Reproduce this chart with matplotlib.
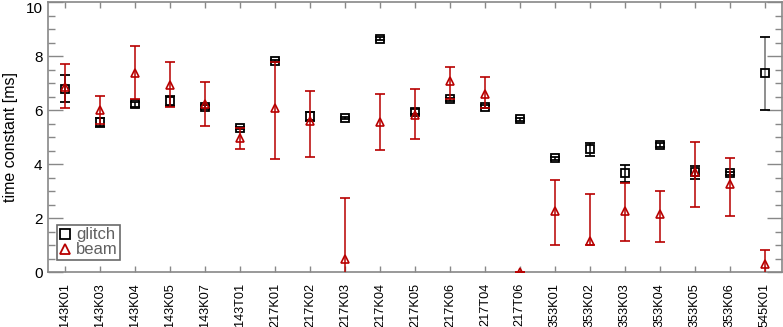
import numpy as np
import matplotlib.pyplot as plt
from matplotlib.lines import Line2D

plt.rcParams['font.family'] = ['Liberation Sans', 'DejaVu Sans']

# bolometer names
bolos = ['143K01', '143K03', '143K04', '143K05', '143K07', '143T01',
         '217K01', '217K02', '217K03', '217K04', '217K05', '217K06',
         '217T04', '217T06', '353K01', '353K02', '353K03', '353K04',
         '353K05', '353K06', '545K01']

# glitch time constants [ms] and errors
glitch = [6.78, 5.55, 6.21, 6.33, 6.10, 5.34, 7.81, 5.77, 5.71, 8.64, 5.94,
          6.39, 6.12, 5.65, 4.21, 4.54, 3.65, 4.70, 3.69, 3.65, 7.36]
glitch_err = [0.50, 0.17, 0.10, 0.20, 0.08, 0.04, 0.04, 0.17, 0.04, 0.05, 0.08,
              0.06, 0.05, 0.04, 0.05, 0.23, 0.30, 0.06, 0.23, 0.06, 1.35]

# beam time constants [ms], lower and upper errors
beam = [6.87, 6.00, 7.38, 6.93, 6.22, 4.95, 6.08, 5.60, 0.48, 5.57, 5.81,
        7.07, 6.59, 0.00, 2.27, 1.15, 2.26, 2.14, 3.71, 3.26, 0.28]
beam_lo = [0.81, 0.50, 0.99, 0.83, 0.81, 0.39, 1.91, 1.34, 2.25, 1.05, 0.90,
           0.65, 0.50, 0.00, 1.27, 0.15, 1.10, 1.04, 1.29, 1.19, 0.50]
beam_hi = [0.82, 0.53, 1.00, 0.85, 0.80, 0.38, 1.70, 1.11, 2.25, 1.03, 0.97,
           0.53, 0.64, 0.00, 1.14, 1.73, 1.05, 0.87, 1.09, 0.97, 0.53]

red = '#b80000'

fig = plt.figure(figsize=(7.83, 3.27), dpi=100)
ax = fig.add_axes([48 / 783, 55 / 327, 734 / 783, 270 / 327])

x = np.arange(len(bolos))

eb = ax.errorbar(x, glitch, yerr=glitch_err, fmt='s', ms=5.5, mfc='none',
                 mec='black', mew=1.3, ecolor='black', elinewidth=1.1,
                 capsize=3.5, capthick=1.1, zorder=3)
# last bar is grey in the original
eb[2][0].set_color(['black'] * (len(bolos) - 1) + ['#707070'])

ax.errorbar(x, beam, yerr=[beam_lo, beam_hi], fmt='^', ms=6, mfc='none',
            mec=red, mew=1.2, ecolor=red, elinewidth=1.1,
            capsize=3.5, capthick=1.1, zorder=4)

ax.set_xlim(-0.5, len(bolos) - 0.5)
ax.set_ylim(0, 10)
ax.set_xticks(x)
ax.set_xticklabels(bolos, rotation=90, fontsize=9.2)
ax.set_yticks([0, 2, 4, 6, 8, 10])
ax.set_yticks(np.arange(0, 10.01, 0.5), minor=True)
ax.tick_params(axis='x', direction='in', top=True, length=4.5, width=1,
               color='#888888', pad=8)
ax.tick_params(axis='y', which='major', direction='in', right=True,
               length=11, width=1, color='#888888', labelsize=11, pad=4)
ax.tick_params(axis='y', which='minor', direction='in', right=True,
               length=5, width=1, color='#888888')
for s in ax.spines.values():
    s.set_color('#888888')
    s.set_linewidth(1.2)

# keep the top label inside the figure
ax.get_yticklabels()[-1].set_verticalalignment('top')

ax.set_ylabel('time constant [ms]', fontsize=11.5, labelpad=5)

handles = [Line2D([], [], ls='none', marker='s', ms=7, mfc='none', mec='black', mew=1.3),
           Line2D([], [], ls='none', marker='^', ms=7.5, mfc='none', mec=red, mew=1.3)]
leg = ax.legend(handles, ['glitch', 'beam'], loc='lower left',
                bbox_to_anchor=(0.012, 0.045), borderaxespad=0, fancybox=False,
                fontsize=12, handlelength=0.7, handletextpad=0.3, borderpad=0.15,
                labelspacing=0.0, labelcolor='#606060')
leg.get_frame().set_edgecolor('#444444')
leg.get_frame().set_linewidth(1.2)

fig.savefig('out.png', dpi=100)
